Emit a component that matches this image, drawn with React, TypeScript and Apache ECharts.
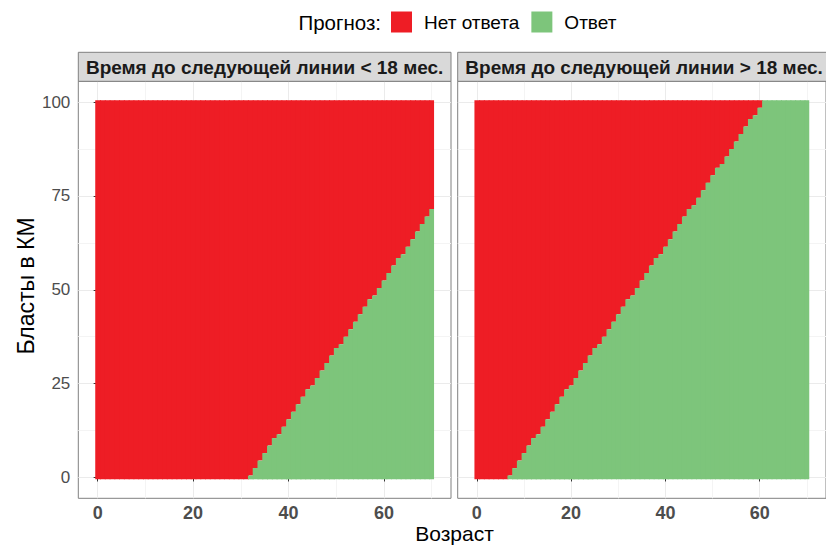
import React, { useEffect, useRef } from 'react';
import * as echarts from 'echarts';

// Age grid (columns of the prediction raster)
const ages = [
  0, 1, 2, 3, 4, 5, 6, 7, 8, 9, 10, 11, 12, 13, 14, 15, 16, 17, 18, 19,
  20, 21, 22, 23, 24, 25, 26, 27, 28, 29, 30, 31, 32, 33, 34, 35, 36, 37, 38, 39,
  40, 41, 42, 43, 44, 45, 46, 47, 48, 49, 50, 51, 52, 53, 54, 55, 56, 57, 58, 59,
  60, 61, 62, 63, 64, 65, 66, 67, 68, 69, 70,
];

// Number of blast cells (0, 1, 2, ...) per age column predicted as "Ответ"
const greenRowsShort = [
  0, 0, 0, 0, 0, 0, 0, 0, 0, 0, 0, 0, 0, 0, 0, 0, 0, 0, 0, 0,
  0, 0, 0, 0, 0, 0, 0, 0, 0, 0, 0, 0, 1, 3, 5, 7, 9, 11, 12, 14,
  16, 18, 20, 22, 24, 25, 27, 29, 31, 33, 35, 36, 38, 40, 42, 44, 46, 48, 49, 51,
  53, 55, 57, 59, 60, 62, 64, 66, 68, 70, 72,
];
const greenRowsLong = [
  0, 0, 0, 0, 0, 0, 0, 1, 3, 5, 7, 9, 11, 12, 14, 16, 18, 20, 22, 24,
  25, 27, 29, 31, 33, 35, 36, 38, 40, 42, 44, 46, 48, 49, 51, 53, 55, 57, 59, 60,
  62, 64, 66, 68, 70, 72, 73, 75, 77, 79, 81, 83, 84, 86, 88, 90, 92, 94, 96, 97,
  99, 101, 101, 101, 101, 101, 101, 101, 101, 101, 101,
];
const blastMax = 100;
const ageMax = 70;

const panelTitles = [
  'Время до следующей линии < 18 мес.',
  'Время до следующей линии > 18 мес.',
];
const classNames = ['Нет ответа', 'Ответ'];
const classColors = ['#EE1D25', '#7DC57B'];
const legendTitle = 'Прогноз:';
const xTitle = 'Возраст';
const yTitle = 'Бласты в КМ';

const xTicks = [0, 20, 40, 60];
const xMinorTicks = [10, 30, 50, 70];
const yTicks = [0, 25, 50, 75, 100];
const yMinorTicks = [12.5, 37.5, 62.5, 87.5];

const FONT = "'Liberation Sans', Arial, sans-serif";
const X_MIN = -4.05;
const X_MAX = 74.05;
const Y_MIN = -5.55;
const Y_MAX = 105.55;

const PANEL_TOP = 81.3;
const PANEL_H = 417;
const PANEL_W = 372.7;
const PANEL_LEFT = [78.3, 457.7];
const STRIP_TOP = 52.3;

export default function App() {
  const ref = useRef<HTMLDivElement>(null);

  useEffect(() => {
    if (!ref.current) return;
    const chart = echarts.init(ref.current, undefined, { renderer: 'svg' });

    const grids = PANEL_LEFT.map((left) => ({
      left,
      top: PANEL_TOP,
      width: PANEL_W,
      height: PANEL_H,
      show: true,
      backgroundColor: '#ffffff',
      borderColor: '#808080',
      borderWidth: 1,
      containLabel: false,
    }));

    const xAxes: any[] = [];
    const yAxes: any[] = [];
    PANEL_LEFT.forEach((_, g) => {
      // major x axis
      xAxes.push({
        type: 'value',
        gridIndex: g,
        min: X_MIN,
        max: X_MAX,
        position: 'bottom',
        axisLine: { show: false },
        axisTick: {
          show: true,
          length: 4,
          customValues: xTicks,
          lineStyle: { color: '#333333', width: 1 },
        },
        axisLabel: {
          show: true,
          customValues: xTicks,
          margin: 6,
          fontFamily: FONT,
          fontSize: 18,
          fontWeight: 'bold',
          color: '#4D4D4D',
        },
        splitLine: { show: true, lineStyle: { color: '#EBEBEB', width: 1 } },
        z: 1,
      });
      // minor x grid
      xAxes.push({
        type: 'value',
        gridIndex: g,
        min: X_MIN,
        max: X_MAX,
        position: 'top',
        axisLine: { show: false },
        axisTick: { show: false, customValues: xMinorTicks },
        axisLabel: { show: false, customValues: xMinorTicks },
        splitLine: { show: true, lineStyle: { color: '#F4F4F4', width: 1 } },
      });
      // major y axis
      yAxes.push({
        type: 'value',
        gridIndex: g,
        min: Y_MIN,
        max: Y_MAX,
        position: 'left',
        axisLine: { show: false },
        axisTick: {
          show: g === 0,
          length: 4,
          customValues: yTicks,
          lineStyle: { color: '#333333', width: 1 },
        },
        axisLabel: {
          show: g === 0,
          customValues: yTicks,
          margin: 8,
          fontFamily: FONT,
          fontSize: 17,
          color: '#4D4D4D',
        },
        splitLine: { show: true, lineStyle: { color: '#EBEBEB', width: 1 } },
      });
      // minor y grid
      yAxes.push({
        type: 'value',
        gridIndex: g,
        min: Y_MIN,
        max: Y_MAX,
        position: 'right',
        axisLine: { show: false },
        axisTick: { show: false, customValues: yMinorTicks },
        axisLabel: { show: false, customValues: yMinorTicks },
        splitLine: { show: true, lineStyle: { color: '#F4F4F4', width: 1 } },
      });
    });

    // green cells: rows 0 .. n-1 ; red cells: rows n .. blastMax
    // each column overlaps the next one slightly so no hairline seams show
    const makeRender = (isGreen: boolean) => (params: any, api: any) => {
      const x = api.value(0) as number;
      const n = api.value(1) as number;
      const y0 = isGreen ? -0.5 : n - 0.5;
      const y1 = isGreen ? n - 0.5 : blastMax + 0.5;
      if (y1 <= y0) return null;
      const pa = api.coord([x - 0.5, y0]);
      const pb = api.coord([x + 0.5, y1]);
      const overlap = x < ageMax ? 1 : 0;
      return {
        type: 'rect',
        shape: {
          x: pa[0],
          y: pb[1],
          width: pb[0] - pa[0] + overlap,
          height: pa[1] - pb[1],
        },
        style: { fill: api.visual('color') },
      };
    };

    const panelData = [greenRowsShort, greenRowsLong];
    const series: any[] = [];
    panelData.forEach((rows, g) => {
      const data = ages.map((a, i) => [a, rows[i]]);
      [false, true].forEach((isGreen) => {
        const ci = isGreen ? 1 : 0;
        series.push({
          type: 'custom',
          name: classNames[ci],
          xAxisIndex: g * 2,
          yAxisIndex: g * 2,
          data,
          encode: { x: 0, y: 1 },
          itemStyle: { color: classColors[ci] },
          renderItem: makeRender(isGreen),
          silent: true,
          z: isGreen ? 4 : 3,
        });
      });
    });

    const graphics: any[] = [];
    PANEL_LEFT.forEach((left, g) => {
      graphics.push({
        type: 'rect',
        shape: { x: left, y: STRIP_TOP, width: PANEL_W, height: PANEL_TOP - STRIP_TOP },
        style: { fill: '#D9D9D9', stroke: '#808080', lineWidth: 1 },
        z: 10,
      });
      graphics.push({
        type: 'text',
        x: left + PANEL_W / 2,
        y: (STRIP_TOP + PANEL_TOP) / 2 + 0.5,
        style: {
          text: panelTitles[g],
          fontFamily: FONT,
          fontSize: 19,
          fontWeight: 'bold',
          fill: '#1A1A1A',
          align: 'center',
          verticalAlign: 'middle',
        },
        z: 11,
      });
    });
    graphics.push({
      type: 'text',
      x: 381,
      y: 22,
      style: {
        text: legendTitle,
        fontFamily: FONT,
        fontSize: 20.5,
        fill: '#000000',
        align: 'right',
        verticalAlign: 'middle',
      },
    });
    graphics.push({
      type: 'text',
      x: 454.5,
      y: 533,
      style: {
        text: xTitle,
        fontFamily: FONT,
        fontSize: 21,
        fill: '#000000',
        align: 'center',
        verticalAlign: 'middle',
      },
    });
    graphics.push({
      type: 'text',
      x: 26,
      y: 286,
      rotation: Math.PI / 2,
      style: {
        text: yTitle,
        fontFamily: FONT,
        fontSize: 23,
        fill: '#000000',
        align: 'center',
        verticalAlign: 'middle',
      },
    });

    chart.setOption({
      animation: false,
      backgroundColor: '#ffffff',
      textStyle: { fontFamily: FONT },
      legend: {
        data: classNames,
        left: 391,
        top: 11.5,
        orient: 'horizontal',
        icon: 'rect',
        itemWidth: 21,
        itemHeight: 21,
        itemGap: 12,
        padding: 0,
        selectedMode: false,
        textStyle: {
          fontFamily: FONT,
          fontSize: 19,
          color: '#000000',
          padding: [0, 0, 0, 7],
        },
      },
      grid: grids,
      xAxis: xAxes,
      yAxis: yAxes,
      series,
      graphic: graphics,
    });

    return () => chart.dispose();
  }, []);

  return (
    <div
      ref={ref}
      style={{ position: 'fixed', left: 0, top: 0, width: 826, height: 546, background: '#fff' }}
    />
  );
}
